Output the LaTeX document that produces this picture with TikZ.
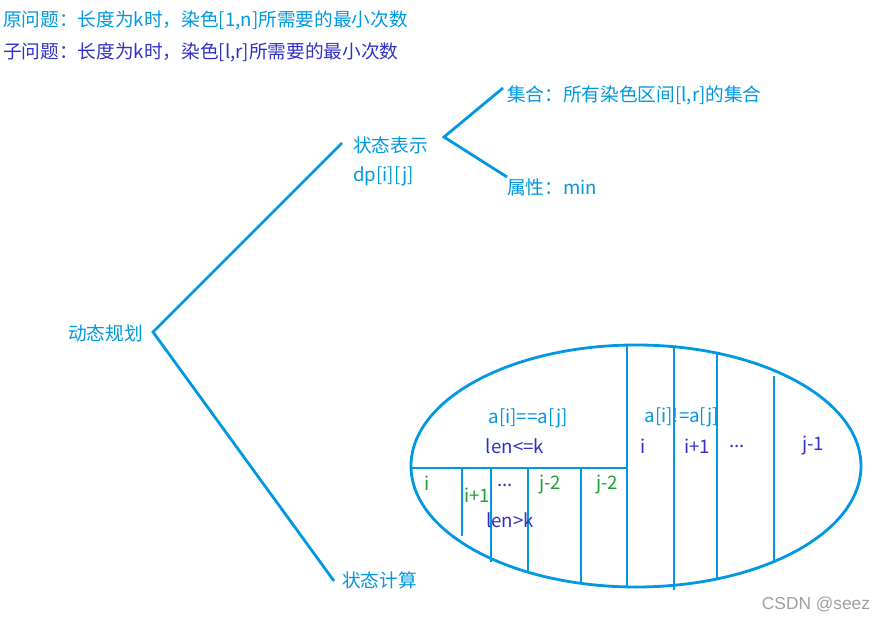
\documentclass[tikz,border=0pt]{standalone}
\usepackage{fontspec}
\setmainfont{Noto Sans CJK SC}
\newfontfamily\markfont{Liberation Sans}
\usetikzlibrary{positioning}
\definecolor{skyblue}{RGB}{0,152,224}
\definecolor{indigo}{RGB}{48,48,200}
\definecolor{leaf}{RGB}{30,160,50}

\tikzset{
  txt/.style={inner sep=0pt, anchor=west, font=\fontsize{14pt}{17pt}\selectfont},
  lbl/.style={inner sep=0pt, font=\fontsize{14pt}{17pt}\selectfont},
  branch/.style={skyblue, line width=2.1pt},
  cut/.style={skyblue, line width=2.1pt}
}

\begin{document}
\begin{tikzpicture}[x=0.75pt, y=-0.75pt]
  \useasboundingbox (0,0) rectangle (888,620);

  % Problem statements
  \node[txt, skyblue] (orig) at (3,20) {原问题：长度为k时，染色[1,n]所需要的最小次数};
  \node[txt, indigo] (sub) at (3,52) {子问题：长度为k时，染色[l,r]所需要的最小次数};

  % Tree
  \node[txt, skyblue] (dp) at (68,333) {动态规划};
  \node[txt, skyblue] (rep) at (353,145) {状态表示};
  \node[txt, skyblue] (dpij) at (353,176) {dp[i][j]};
  \node[txt, skyblue] (calc) at (342,580) {状态计算};
  \node[txt, skyblue] (set) at (507,95) {集合：所有染色区间[l,r]的集合};
  \node[txt, skyblue] (attr) at (507,187) {属性：min};

  \coordinate (dpv) at (153,332);
  \coordinate (repv) at (444,137);
  \draw[branch] (342,143) -- (dpv) -- (334,581);
  \draw[branch] (503,88) -- (repv) -- (507,177);

  % Set split
  \draw[cut] (636,466) ellipse [x radius=168.75pt, y radius=90.75pt];
  \draw[cut] (410,468) -- (627,468);
  \foreach \x/\a/\b in {462/468/536, 491/467/562, 528/467/572, 581/467/583,
                        627/345/588, 674/347/590, 717/353/580, 774/376/562} {
    \draw[cut] (\x,\a) -- (\x,\b);
  }

  % a[i]==a[j]
  \node[lbl, skyblue] (eq) at (528,418) {a[i]==a[j]};
  \node[lbl, indigo] (short) at (515,446) {len<=k};
  \node[lbl, leaf] (l1) at (427,483) {i};
  \node[lbl, leaf] (l2) at (477,495) {i+1};
  \node[lbl, indigo] (l3) at (505,485) {...};
  \node[lbl, leaf] (l4) at (550,485) {j-2};
  \node[lbl, leaf] (l5) at (607,485) {j-2};
  \node[lbl, indigo] (long) at (510,520) {len>k};

  % a[i]!=a[j]
  \node[lbl, skyblue] (neq) at (682,417) {a[i]!=a[j]};
  \node[lbl, indigo] (r1) at (643,446) {i};
  \node[lbl, indigo] (r2) at (697,446) {i+1};
  \node[lbl, indigo] (r3) at (737,446) {...};
  \node[lbl, indigo] (r4) at (813,446) {j-1};

  \node[lbl, gray!75, font=\markfont\fontsize{13pt}{15pt}\selectfont] (mark) at (816,604) {CSDN @seez};
\end{tikzpicture}
\end{document}
